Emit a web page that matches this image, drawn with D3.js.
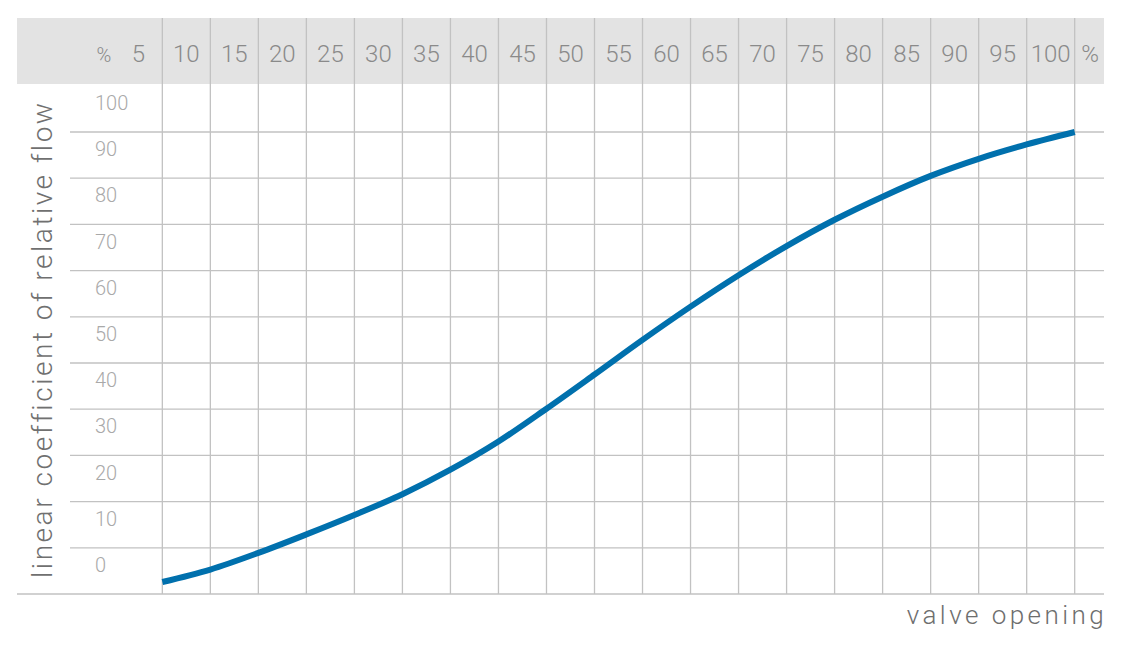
<!DOCTYPE html>
<html>
<head>
<meta charset="utf-8">
<script src="https://cdn.jsdelivr.net/npm/d3@7"></script>
<style>
  html, body { margin: 0; padding: 0; background: #fff; }
  svg { display: block; font-family: Roboto, "Open Sans", "DejaVu Sans", sans-serif; }
</style>
</head>
<body>
<svg id="chart" width="1130" height="650"></svg>
<script>
// ---- data ----
const opening = [5, 10, 15, 20, 25, 30, 35, 40, 45, 50, 55, 60, 65, 70, 75, 80, 85, 90, 95, 100];
const flow    = [2.6, 5.3, 8.9, 12.9, 17.1, 21.6, 26.9, 33.0, 40.1, 47.5, 55.0, 62.2, 69.0, 75.3, 81.0, 86.0, 90.5, 94.2, 97.3, 100];
const xTicks  = [5, 10, 15, 20, 25, 30, 35, 40, 45, 50, 55, 60, 65, 70, 75, 80, 85, 90, 95, 100];
const yTicks  = [0, 10, 20, 30, 40, 50, 60, 70, 80, 90, 100];
const xUnit = "%";
const yTitle = "linear coefficient of relative flow";
const xTitle = "valve opening";

const svg = d3.select("#chart");
const x = d3.scaleLinear().domain([0, 100]).range([114.3, 1074.7]);
const y = d3.scaleLinear().domain([0, 100]).range([594, 132]);

const gridColor = "#c2c2c2";

// header band
svg.append("rect").attr("x", 17).attr("y", 18).attr("width", 1087).attr("height", 66).attr("fill", "#e3e3e3");

// horizontal grid
svg.append("g").selectAll("line").data(yTicks).join("line")
  .attr("x1", d => d === 0 ? 17 : 70).attr("x2", 1104)
  .attr("y1", d => y(d)).attr("y2", d => y(d))
  .attr("stroke", gridColor).attr("stroke-width", 1.3);

// vertical grid
svg.append("g").selectAll("line").data(xTicks).join("line")
  .attr("x1", d => x(d)).attr("x2", d => x(d))
  .attr("y1", 18).attr("y2", 594)
  .attr("stroke", gridColor).attr("stroke-width", 1.3);

// header labels
const hdr = svg.append("g").attr("font-size", 24).attr("font-weight", 300).attr("fill", "#8a8a8a").attr("text-anchor", "middle");
hdr.selectAll("text.t").data(xTicks).join("text").attr("class", "t")
  .attr("x", d => x(d - 2.5)).attr("y", 62).text(d => d);
hdr.append("text").attr("x", 104).attr("y", 62).attr("font-size", 20).text(xUnit);
hdr.append("text").attr("x", 1090).attr("y", 62).text(xUnit);

// y labels
svg.append("g").attr("font-size", 20).attr("font-weight", 300).attr("fill", "#a9a9a9")
  .selectAll("text").data(yTicks).join("text")
  .attr("x", 95).attr("y", d => y(d) - 22).text(d => d);

// line
const line = d3.line().x((d, i) => x(opening[i])).y(d => y(d)).curve(d3.curveCatmullRom.alpha(0.5));
svg.append("path").datum(flow).attr("d", line)
  .attr("fill", "none").attr("stroke", "#0070ad").attr("stroke-width", 6).attr("stroke-linecap", "butt");

// titles
function fit(sel, target) {
  const n = sel.text().length;
  const w = sel.node().getComputedTextLength();
  sel.attr("letter-spacing", (target - w) / (n - 1));
}
const yt = svg.append("text").attr("font-size", 28).attr("font-weight", 300).attr("fill", "#707070")
  .attr("transform", "translate(52,578) rotate(-90)").text(yTitle);
fit(yt, 473);
const xt = svg.append("text").attr("font-size", 26).attr("font-weight", 300).attr("fill", "#6e6e6e")
  .attr("x", 906.7).attr("y", 624).text(xTitle);
fit(xt, 197);
</script>
</body>
</html>
